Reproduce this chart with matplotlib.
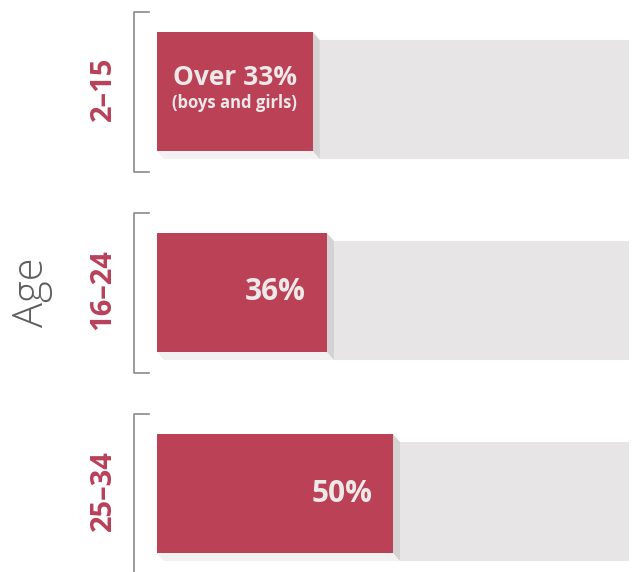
import matplotlib
matplotlib.use("Agg")
import matplotlib.pyplot as plt
from matplotlib.patches import Polygon

# ---- data ----
age_groups = ["2–15", "16–24", "25–34"]
shares = [33, 36, 50]
bar_labels = ["Over 33%", "36%", "50%"]
sub_labels = ["(boys and girls)", "", ""]
axis_title = "Age"

RED = "#bb4157"
GREY = "#e7e5e6"
SIDE = "#d4d2d2"
BOTTOM = "#f1f1f1"
TXT = "#ede9e9"
FONT = "Open Sans"

W, H = 634, 572
fig = plt.figure(figsize=(W / 100, H / 100), dpi=100)
fig.patch.set_facecolor("white")

# axes: 0% at x=157px, 100% at x=629px
x0, x1 = 157, 629
ax = fig.add_axes([x0 / W, 0, (x1 - x0) / W, 1])
ax.set_xlim(0, 100)
pxy = 201.0  # pixels per category
top_off = 91.5 / pxy
ax.set_ylim(H / pxy - top_off, -top_off)
ax.axis("off")

px_x = 100 / (x1 - x0)  # % per pixel
px_y = 1 / pxy
bh = 119 * px_y
dx, dy = 7 * px_x, 8 * px_y

ys = list(range(len(shares)))
# grey remainder bars (offset down)
ax.barh([y + dy for y in ys], [100 - s for s in shares], left=shares,
        height=bh, color=GREY, zorder=1)
for y, s in zip(ys, shares):
    top, bot = y - bh / 2, y + bh / 2
    # side shadow
    ax.add_patch(Polygon([(s, top), (s + dx, top + dy), (s + dx, bot + dy), (s, bot)],
                         closed=True, color=SIDE, lw=0, zorder=2))
    # bottom shadow
    ax.add_patch(Polygon([(0, bot), (s, bot), (s + dx, bot + dy), (dx, bot + dy)],
                         closed=True, color=BOTTOM, lw=0, zorder=2))
# red bars
ax.barh(ys, shares, height=bh, color=RED, zorder=3)

# value labels
for y, s, lab, sub in zip(ys, shares, bar_labels, sub_labels):
    if sub:
        ax.text(s / 2, y - 14 * px_y, lab, ha="center", va="center", color=TXT,
                fontsize=19, fontweight="bold", family=FONT, zorder=4)
        ax.text(s / 2, y + 12 * px_y, sub, ha="center", va="center", color=TXT,
                fontsize=12, fontweight="bold", family=FONT, zorder=4)
    else:
        ax.text(s - 21 * px_x, y, lab, ha="right", va="center", color=TXT,
                fontsize=21.5, fontweight="bold", family=FONT, zorder=4)

# brackets and age labels
bx = (134 - x0) * px_x
tx = (149 - x0) * px_x
half = 80 * px_y
for y, g in zip(ys, age_groups):
    ax.plot([tx, bx, bx, tx], [y - half, y - half, y + half, y + half],
            color="#8a8a8a", lw=1.2, clip_on=False, zorder=2)
    ax.text((103 - x0) * px_x, y - 3 * px_y, g, rotation=90, ha="center", va="center",
            color="#b9405a", fontsize=21, fontweight="bold", family=FONT)

ax.text((32 - x0) * px_x, ys[1], axis_title, rotation=90, ha="center", va="center",
        color="#5e5e5e", fontsize=30, fontweight="light", family=FONT)

fig.savefig("out.png", dpi=100, facecolor="white")
